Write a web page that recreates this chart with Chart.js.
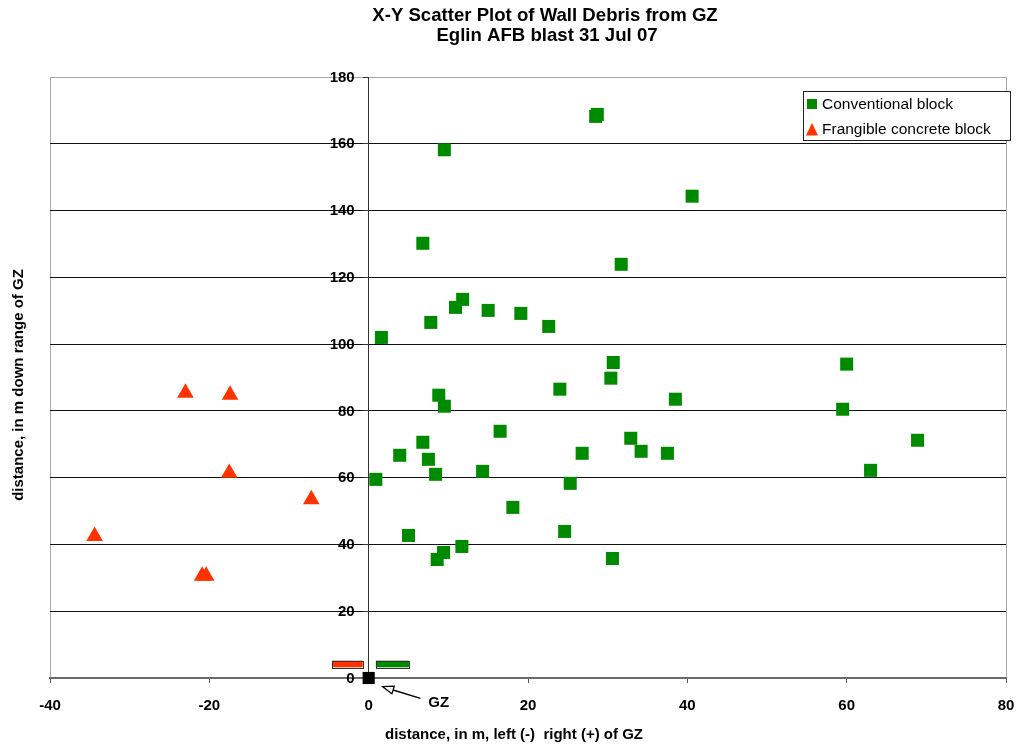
<!DOCTYPE html>
<html><head><meta charset="utf-8">
<script src="https://cdn.jsdelivr.net/npm/chart.js@4.4.1/dist/chart.umd.min.js"></script>
<style>html,body{margin:0;padding:0;background:#fff}#wrap{width:1018px;height:748px;position:relative}</style>
</head><body><div id="wrap"><canvas id="c" width="1018" height="748"></canvas></div>
<script>
// ---- data ----
const conventionalX = [28.7, 28.5, 9.5, 40.6, 6.8, 31.7, 11.8, 10.9, 15.0, 19.1, 7.8, 22.6, 1.6,
  30.7, 30.4, 24.0, 8.8, 9.5, 38.5, 16.5, 32.9, 34.2, 37.5, 26.8, 6.8, 3.9, 7.5, 8.4, 14.3, 0.9,
  25.3, 18.1, 5.0, 24.6, 11.7, 9.4, 8.6, 30.6, 60.0, 59.5, 68.9, 63.0];
const conventionalY = [168.8, 168.2, 158.2, 144.3, 130.2, 123.9, 113.4, 111.0, 110.1, 109.2, 106.5, 105.3, 102.0,
  94.5, 89.8, 86.5, 84.7, 81.4, 83.5, 73.9, 71.8, 67.9, 67.3, 67.3, 70.6, 66.7, 65.5, 61.0, 61.9, 59.5,
  58.3, 51.1, 42.7, 43.9, 39.4, 37.6, 35.5, 35.8, 94.0, 80.5, 71.2, 62.2];
const frangibleX = [-23.0, -17.4, -17.5, -7.2, -34.4, -20.9, -20.4];
const frangibleY = [85.4, 84.8, 61.4, 53.5, 42.5, 30.6, 30.6];
const groundZeroX = [0];
const groundZeroY = [0];
const seriesNames = ['Conventional block', 'Frangible concrete block'];
const xTickValues = [-40, -20, 0, 20, 40, 60, 80];
const yTickValues = [0, 20, 40, 60, 80, 100, 120, 140, 160, 180];
// wall footprints near GZ: [xStart, xEnd], [yStart, yEnd]
const wallFrangibleX = [-4.6, -0.75];
const wallConventionalX = [0.9, 5.05];
const wallY = [3.2, 5.2];
const gzLabel = 'GZ';
const gzLabelPos = [8.8, -7.3];
const gzArrowFrom = [6.5, -6.1];
const gzArrowTo = [1.75, -2.6];
const titleLines = ['X-Y Scatter Plot of Wall Debris from GZ', 'Eglin AFB blast 31 Jul 07'];
const xTitle = 'distance, in m, left (-)  right (+) of GZ';
const yTitle = 'distance, in m down range of GZ';

const GREEN = '#008A00', RED = '#FF3300';
const FONT = '"Liberation Sans", Arial, sans-serif';

const toPts = (xs, ys) => xs.map((x, i) => ({x, y: ys[i]}));

const decor = {
  id: 'decor',
  afterDatasetsDraw(chart) {
    const ctx = chart.ctx, xs = chart.scales.x, ys = chart.scales.y;
    ctx.save();
    // walls
    [[wallFrangibleX, RED], [wallConventionalX, GREEN]].forEach(([wx, col]) => {
      const x1 = xs.getPixelForValue(wx[0]), x2 = xs.getPixelForValue(wx[1]);
      const y1 = ys.getPixelForValue(wallY[1]), y2 = ys.getPixelForValue(wallY[0]);
      ctx.fillStyle = col;
      ctx.fillRect(x1, y1, x2 - x1, y2 - y1);
      ctx.strokeStyle = '#333';
      ctx.lineWidth = 1;
      ctx.strokeRect(Math.round(x1) + 0.5, Math.round(y1) + 0.5, Math.round(x2 - x1), Math.round(y2 - y1));
    });
    // arrow
    const ax1 = xs.getPixelForValue(gzArrowFrom[0]), ay1 = ys.getPixelForValue(gzArrowFrom[1]);
    const ax2 = xs.getPixelForValue(gzArrowTo[0]), ay2 = ys.getPixelForValue(gzArrowTo[1]);
    const ang = Math.atan2(ay2 - ay1, ax2 - ax1);
    const hl = 11, hw = 4;
    const bx = ax2 - Math.cos(ang) * hl, by = ay2 - Math.sin(ang) * hl;
    ctx.strokeStyle = '#000';
    ctx.lineWidth = 1.5;
    ctx.beginPath(); ctx.moveTo(ax1, ay1); ctx.lineTo(bx, by); ctx.stroke();
    ctx.beginPath();
    ctx.moveTo(ax2, ay2);
    ctx.lineTo(bx - Math.sin(ang) * hw, by + Math.cos(ang) * hw);
    ctx.lineTo(bx + Math.sin(ang) * hw, by - Math.cos(ang) * hw);
    ctx.closePath();
    ctx.fillStyle = '#fff'; ctx.fill();
    ctx.lineWidth = 1.2; ctx.stroke();
    // GZ label
    ctx.fillStyle = '#000';
    ctx.font = 'bold 15px ' + FONT;
    ctx.textAlign = 'center'; ctx.textBaseline = 'middle';
    ctx.fillText(gzLabel, xs.getPixelForValue(gzLabelPos[0]), ys.getPixelForValue(gzLabelPos[1]));
    ctx.restore();
  },
  afterDraw(chart) {
    const ctx = chart.ctx, xs = chart.scales.x, ys = chart.scales.y;
    ctx.save();
    // y tick labels, placed left of the axis that crosses at x = 0
    ctx.fillStyle = '#000';
    ctx.font = 'bold 15px ' + FONT;
    ctx.textAlign = 'right'; ctx.textBaseline = 'middle';
    const axisPx = xs.getPixelForValue(0);
    yTickValues.forEach(v => ctx.fillText(String(v), axisPx - 14, ys.getPixelForValue(v) + 0.5));
    // titles
    ctx.textAlign = 'center'; ctx.textBaseline = 'alphabetic';
    ctx.font = 'bold 18.6px ' + FONT;
    ctx.fillText(titleLines[0], 545, 21);
    ctx.fillText(titleLines[1], 547, 41);
    ctx.font = 'bold 15px ' + FONT;
    ctx.fillText(xTitle, 514, 739);
    ctx.save();
    ctx.translate(19, 385);
    ctx.rotate(-Math.PI / 2);
    ctx.textBaseline = 'middle';
    ctx.fillText(yTitle, 0, 0);
    ctx.restore();
    // legend
    const lx = 803, ly = 91, lw = 207, lh = 49;
    ctx.fillStyle = '#fff';
    ctx.fillRect(lx, ly, lw, lh);
    ctx.strokeStyle = '#222'; ctx.lineWidth = 1;
    ctx.strokeRect(lx + 0.5, ly + 0.5, lw, lh);
    const items = chart.data.datasets.filter(d => d.inLegend);
    items.forEach((d, i) => {
      const cy = 104 + i * 25.5, cx = 812;
      ctx.fillStyle = d.backgroundColor;
      if (d.pointStyle === 'rect') {
        ctx.fillRect(cx - 5, cy - 5, 10, 10);
      } else {
        ctx.beginPath();
        ctx.moveTo(cx, cy - 6.5); ctx.lineTo(cx + 6, cy + 6); ctx.lineTo(cx - 6, cy + 6); ctx.closePath();
        ctx.fill();
      }
      ctx.fillStyle = '#000';
      ctx.font = '15.5px ' + FONT;
      ctx.textAlign = 'left'; ctx.textBaseline = 'middle';
      ctx.fillText(d.label, 822, cy + 0.5);
    });
    ctx.restore();
  }
};

new Chart(document.getElementById('c'), {
  type: 'scatter',
  data: {
    datasets: [
      {label: seriesNames[0], inLegend: true, data: toPts(conventionalX, conventionalY), pointStyle: 'rect',
       backgroundColor: GREEN, borderColor: GREEN, borderWidth: 0, pointRadius: 9.2, clip: false},
      {label: seriesNames[1], inLegend: true, data: toPts(frangibleX, frangibleY), pointStyle: 'triangle',
       backgroundColor: RED, borderColor: RED, borderWidth: 0, pointRadius: 9.6, clip: false},
      {label: 'GZ', inLegend: false, data: toPts(groundZeroX, groundZeroY), pointStyle: 'rect',
       backgroundColor: '#000', borderColor: '#000', borderWidth: 0, pointRadius: 8.6, clip: false}
    ]
  },
  options: {
    responsive: false, devicePixelRatio: 1, animation: false,
    layout: {padding: {left: 50, right: 12, top: 77, bottom: 0}},
    plugins: {legend: {display: false}, title: {display: false}, tooltip: {enabled: false}},
    scales: {
      x: {
        type: 'linear', position: 'bottom', min: -40, max: 80,
        afterFit: s => { s.height = 70; s.paddingLeft = 0; s.paddingRight = 0; },
        afterBuildTicks: s => { s.ticks = xTickValues.map(v => ({value: v})); },
        ticks: {color: '#000', font: {family: FONT, size: 15, weight: 'bold'}, padding: 14, maxRotation: 0},
        grid: {
          drawTicks: true, tickLength: 5, tickColor: '#555', tickWidth: 1,
          color: c => (c.tick && (c.tick.value === -40 || c.tick.value === 80)) ? '#a8a8a8' : 'rgba(0,0,0,0)',
          lineWidth: 1
        },
        border: {display: true, color: '#6a6a6a', width: 2}
      },
      y: {
        type: 'linear', position: {x: 0}, min: 0, max: 180,
        afterFit: s => { s.width = 0; s.paddingTop = 0; s.paddingBottom = 0; },
        afterBuildTicks: s => { s.ticks = yTickValues.map(v => ({value: v})); },
        ticks: {display: false},
        grid: {
          drawTicks: true, tickLength: 5, tickColor: '#333', tickWidth: 1,
          color: c => {
            const v = c.tick && c.tick.value;
            if (v === 0) return 'rgba(0,0,0,0)';
            if (v === 180) return '#a8a8a8';
            return '#111';
          },
          lineWidth: 1
        },
        border: {display: true, color: '#333', width: 1}
      }
    }
  },
  plugins: [decor]
});
</script>
</body></html>
